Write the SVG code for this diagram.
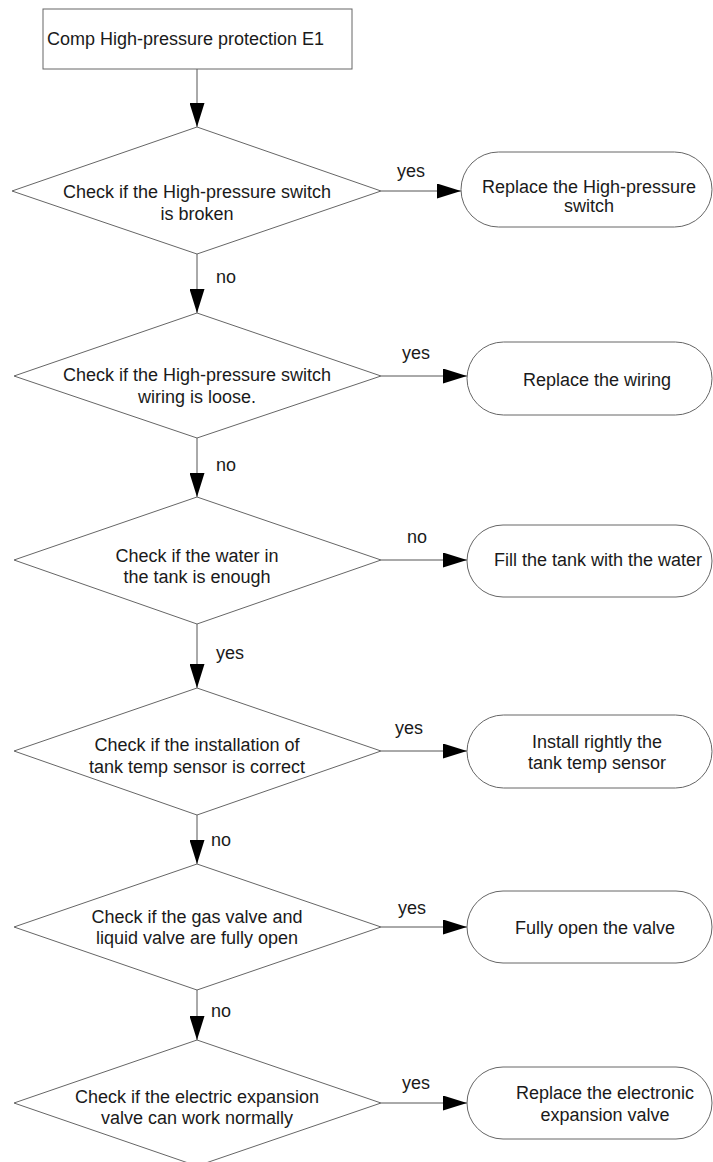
<svg xmlns="http://www.w3.org/2000/svg" width="713" height="1162" viewBox="0 0 713 1162">
<defs>
<style>
text{font-family:"Liberation Sans",Arial,sans-serif;font-size:18px;fill:#1a1a1a;}
.c{text-anchor:middle;}
.shape{fill:#fff;stroke:#666;stroke-width:1;}
.ln{stroke:#555;stroke-width:1;fill:none;marker-end:url(#ah);}
</style>
<marker id="ah" markerUnits="userSpaceOnUse" markerWidth="24" markerHeight="15" refX="24" refY="7.5" orient="auto">
<path d="M0,0 L24,7.5 L0,15 z" fill="#000"/>
</marker>
</defs>
<rect width="713" height="1162" fill="#fff"/>
<g id="connectors">
<line class="ln" x1="197" y1="69" x2="197" y2="127"/>
<line class="ln" x1="197" y1="254" x2="197" y2="313"/>
<line class="ln" x1="197" y1="438" x2="197" y2="497"/>
<line class="ln" x1="197" y1="624" x2="197" y2="688"/>
<line class="ln" x1="197" y1="815" x2="197" y2="864"/>
<line class="ln" x1="197" y1="990" x2="197" y2="1040"/>
<line class="ln" x1="381" y1="191" x2="461" y2="191"/>
<line class="ln" x1="381" y1="376" x2="467" y2="376"/>
<line class="ln" x1="381" y1="560" x2="467" y2="560"/>
<line class="ln" x1="381" y1="751" x2="467" y2="751"/>
<line class="ln" x1="381" y1="927" x2="467" y2="927"/>
<line class="ln" x1="381" y1="1103" x2="467" y2="1103"/>
<text x="216" y="283">no</text>
<text x="216" y="471">no</text>
<text x="216" y="659">yes</text>
<text x="211" y="846">no</text>
<text x="211" y="1017">no</text>
<text x="397" y="177">yes</text>
<text x="402" y="359">yes</text>
<text x="407" y="543">no</text>
<text x="395" y="734">yes</text>
<text x="398" y="914">yes</text>
<text x="402" y="1089">yes</text>
</g>
<g id="start">
<rect class="shape" x="43" y="9" width="309" height="60"/>
<text x="47" y="45">Comp High-pressure protection E1</text>
</g>
<g id="d1">
<polygon class="shape" points="197,127 381,191 197,254 12,191"/>
<text class="c" x="197" y="198">Check if the High-pressure switch</text>
<text class="c" x="197" y="220">is broken</text>
</g>
<g id="t1">
<rect class="shape" x="461" y="152" width="251" height="75" rx="37.5"/>
<text class="c" x="589" y="193">Replace the High-pressure</text>
<text class="c" x="589" y="212">switch</text>
</g>
<g id="d2">
<polygon class="shape" points="197,313 381,376 197,438 14,376"/>
<text class="c" x="197" y="381">Check if the High-pressure switch</text>
<text class="c" x="197" y="403">wiring is loose.</text>
</g>
<g id="t2">
<rect class="shape" x="467" y="342" width="245" height="73" rx="36.5"/>
<text class="c" x="597" y="386">Replace the wiring</text>
</g>
<g id="d3">
<polygon class="shape" points="197,497 381,560 197,624 14,560"/>
<text class="c" x="197" y="562">Check if the water in</text>
<text class="c" x="197" y="583">the tank is enough</text>
</g>
<g id="t3">
<rect class="shape" x="467" y="525" width="245" height="72" rx="36"/>
<text class="c" x="598" y="566">Fill the tank with the water</text>
</g>
<g id="d4">
<polygon class="shape" points="197,688 381,751 197,815 14,751"/>
<text class="c" x="197" y="751">Check if the installation of</text>
<text class="c" x="197" y="773">tank temp sensor is correct</text>
</g>
<g id="t4">
<rect class="shape" x="467" y="715" width="245" height="73" rx="36.5"/>
<text class="c" x="597" y="748">Install rightly the</text>
<text class="c" x="597" y="769">tank temp sensor</text>
</g>
<g id="d5">
<polygon class="shape" points="197,864 381,927 197,990 14,927"/>
<text class="c" x="197" y="923">Check if the gas valve and</text>
<text class="c" x="197" y="944">liquid valve are fully open</text>
</g>
<g id="t5">
<rect class="shape" x="467" y="891" width="245" height="72" rx="36"/>
<text class="c" x="595" y="934">Fully open the valve</text>
</g>
<g id="d6">
<polygon class="shape" points="197,1040 381,1103 197,1166 14,1103"/>
<text class="c" x="197" y="1103">Check if the electric expansion</text>
<text class="c" x="197" y="1124">valve can work normally</text>
</g>
<g id="t6">
<rect class="shape" x="467" y="1067" width="245" height="72" rx="36"/>
<text class="c" x="605" y="1099">Replace the electronic</text>
<text class="c" x="605" y="1121">expansion valve</text>
</g>
</svg>
